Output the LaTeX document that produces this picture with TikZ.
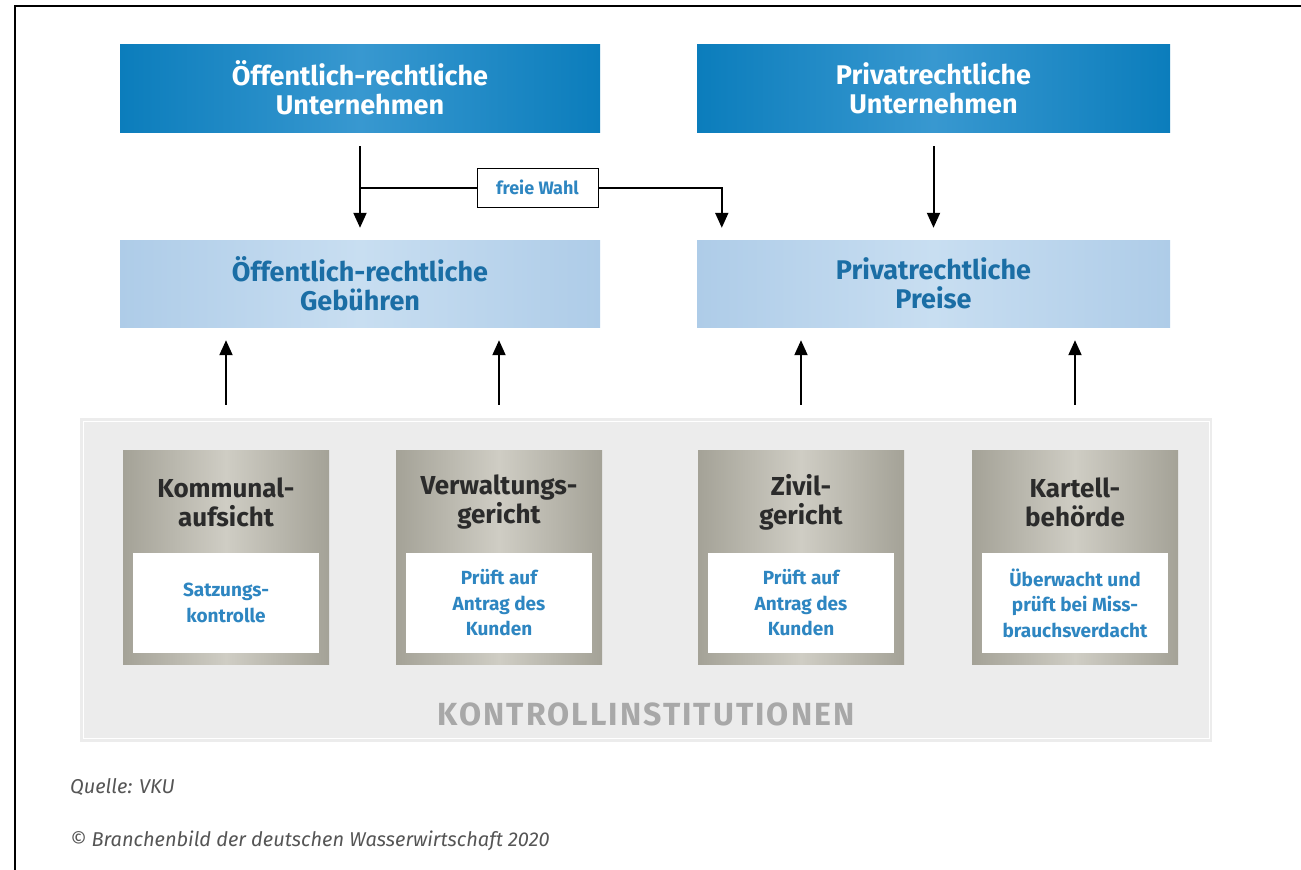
\documentclass[tikz,border=0pt]{standalone}
\usepackage{fontspec}
\setmainfont{Fira Sans}
\usetikzlibrary{arrows.meta}
\definecolor{topblue}{HTML}{0B7DBC}
\definecolor{topblueL}{HTML}{3898D0}
\definecolor{midblue}{HTML}{AECCE8}
\definecolor{midblueL}{HTML}{C8DEF1}
\definecolor{txtblue}{HTML}{1B6EA5}
\definecolor{lblue}{HTML}{2E86C1}
\definecolor{instgray}{HTML}{A4A297}
\definecolor{instgrayL}{HTML}{CFCDC4}
\definecolor{bggray}{HTML}{ECECEC}
\definecolor{titlegray}{HTML}{2B2B2B}
\definecolor{kgray}{HTML}{A8A8A8}
\definecolor{srcgray}{HTML}{555555}
\begin{document}
\begin{tikzpicture}[x=1pt,y=-1pt,
  topbox/.style={minimum height=88pt, inner sep=0pt, left color=topblue, right color=topblue, middle color=topblueL, text=white, font=\bfseries\fontsize{27}{29}\selectfont, align=center},
  midbox/.style={minimum height=87pt, inner sep=0pt, left color=midblue, right color=midblue, middle color=midblueL, text=txtblue, font=\bfseries\fontsize{27}{29}\selectfont, align=center},
  instbox/.style={minimum width=206pt, minimum height=214pt, inner sep=0pt, left color=instgray, right color=instgray, middle color=instgrayL},
  insttitle/.style={text=titlegray, font=\bfseries\fontsize{26}{29}\selectfont, align=center, inner sep=0pt},
  instwhite/.style={minimum width=186pt, minimum height=100pt, inner sep=0pt, fill=white, text=lblue, font=\bfseries\fontsize{19}{25.5}\selectfont, align=center},
  choicebox/.style={draw=black, line width=1pt, fill=white, minimum width=121pt, minimum height=39pt, inner sep=0pt, text=lblue, font=\bfseries\fontsize{18}{20}\selectfont},
  arr/.style={line width=2pt, -{Triangle[width=13pt,length=15pt]}},
  plainline/.style={line width=2pt},
  srctext/.style={text=srcgray, font=\itshape\fontsize{20}{22}\selectfont, anchor=west, inner sep=0pt}
]
\useasboundingbox (0,0) rectangle (1301,870);
\fill[white] (0,0) rectangle (1301,870);
% frame
\draw[line width=2pt] (15,870) -- (15,6) -- (1301,6);

% background of control institutions
\fill[bggray] (80,418) rectangle (1212,742);
\draw[white, line width=1pt] (83,421) rectangle (1209,738);

% top boxes
\node[topbox, minimum width=480pt] (t1) at (360,88) {Öffentlich-rechtliche\\Unternehmen};
\node[topbox, minimum width=473pt] (t2) at (933.5,88) {Privatrechtliche\\Unternehmen};

% middle boxes
\node[midbox, minimum width=480pt] (m1) at (360,283.5) {Öffentlich-rechtliche\\Gebühren};
\node[midbox, minimum width=473pt] (m2) at (933.5,283.5) {Privatrechtliche\\Preise};

% free choice
\node[choicebox] (fw) at (537.5,187.5) {freie Wahl};
\coordinate (j) at (360,187.5);
\coordinate (rr) at ([xshift=25pt]m2.north west);

\draw[arr, shorten <=14pt, shorten >=12pt] (t1.south) -- (m1.north);
\draw[arr, shorten <=14pt, shorten >=12pt] (t2.south) -- (m2.north);
\draw[plainline] (j) -- (fw.west);
\draw[arr, shorten >=12pt] (fw.east) -| (rr);

% institutions
\node[instbox] (k1) at (226,557) {};
\node[instbox] (k2) at (499,557) {};
\node[instbox] (k3) at (801,557) {};
\node[instbox] (k4) at (1075,557) {};

\node[insttitle] (k1t) at (226,502) {Kommunal-\\aufsicht};
\node[insttitle] (k2t) at (499,502) {Verwaltungs-\\gericht};
\node[insttitle] (k3t) at (801,502) {Zivil-\\gericht};
\node[insttitle] (k4t) at (1075,502) {Kartell-\\behörde};

\node[instwhite] (k1w) at (226,603) {Satzungs-\\kontrolle};
\node[instwhite] (k2w) at (499,603) {Prüft auf\\Antrag des\\Kunden};
\node[instwhite] (k3w) at (801,603) {Prüft auf\\Antrag des\\Kunden};
\node[instwhite] (k4w) at (1075,603) {Überwacht und\\prüft bei Miss-\\brauchsverdacht};

\draw[arr, shorten <=45pt, shorten >=13pt] (k1.north) -- (k1.north |- m1.south);
\draw[arr, shorten <=45pt, shorten >=13pt] (k2.north) -- (k2.north |- m1.south);
\draw[arr, shorten <=45pt, shorten >=13pt] (k3.north) -- (k3.north |- m2.south);
\draw[arr, shorten <=45pt, shorten >=13pt] (k4.north) -- (k4.north |- m2.south);

\node[text=kgray, font=\bfseries\fontsize{32}{34}\selectfont\addfontfeature{LetterSpace=6.5}, inner sep=0pt] (kt) at (646,714) {KONTROLLINSTITUTIONEN};

% sources
\node[srctext] (q) at (70,787) {Quelle: VKU};
\node[srctext] (c) at (70,841) {© Branchenbild der deutschen Wasserwirtschaft 2020};
\end{tikzpicture}
\end{document}
